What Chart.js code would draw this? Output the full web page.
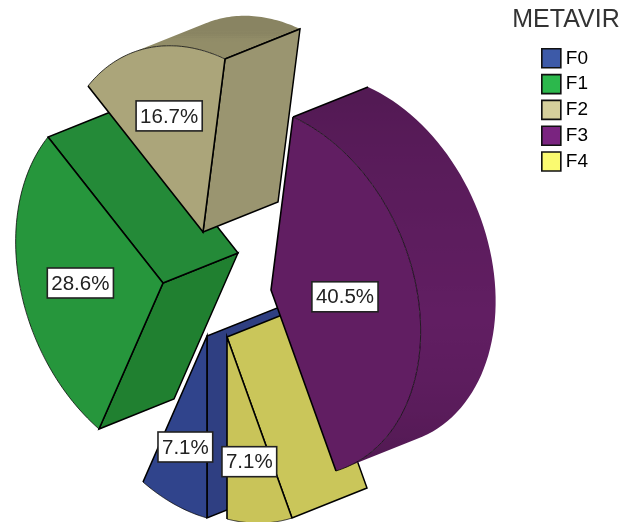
<!DOCTYPE html>
<html>
<head>
<meta charset="utf-8">
<style>
  html, body { margin: 0; padding: 0; background: #fff; }
  #wrap { width: 634px; height: 522px; }
</style>
<script src="https://cdn.jsdelivr.net/npm/chart.js@4/dist/chart.umd.min.js"></script>
</head>
<body>
<div id="wrap"><canvas id="pie" width="634" height="522"></canvas></div>
<script>
const categories = ['F0', 'F1', 'F2', 'F3', 'F4'];
const percents = [7.1, 28.6, 16.7, 40.5, 7.1];
const legendTitle = 'METAVIR';

const faceColors = ['#30448c', '#26963c', '#aba57a', '#611e62', '#c9c459'];
const legendColors = ['#3d5aa8', '#2cb84c', '#d6d09c', '#7a2480', '#fafa70'];
const startWallColors = ['#2f3f82', '#208030', '#9a9570', '#5d1e5e', '#cac65a'];
const endWallColors = ['#2f3f82', '#248a38', '#9a9570', '#5d1e5e', '#cac65a'];

// fake 3d view: where each exploded wedge tip lands and where the slice edges point
const wedgeTips = [[207, 336], [163, 283], [203, 232], [271, 290], [227, 337]];
const spokes = [[0, 182], [-64, 146], [-115, -146], [22, -173], [65, 181]];
const depth = [75, -30];
const paintOrder = [1, 2, 0, 4, 3];
const labelReach = [0.66, 0.575, 0.63, 0.5, 0.67];

function viewOf(arc, i) {
  const r = arc.outerRadius;
  const u = spokes[i];
  const v = spokes[(i + 1) % spokes.length];
  const c1 = Math.cos(arc.startAngle) * r, s1 = Math.sin(arc.startAngle) * r;
  const c2 = Math.cos(arc.endAngle) * r, s2 = Math.sin(arc.endAngle) * r;
  const det = c1 * s2 - c2 * s1;
  const a = (u[0] * s2 - v[0] * s1) / det;
  const c = (v[0] * c1 - u[0] * c2) / det;
  const b = (u[1] * s2 - v[1] * s1) / det;
  const d = (v[1] * c1 - u[1] * c2) / det;
  const tip = wedgeTips[i];
  return { a, b, c, d, e: tip[0] - (a * arc.x + c * arc.y), f: tip[1] - (b * arc.x + d * arc.y), tip };
}

function project(m, arc, angle, reach) {
  const px = arc.x + Math.cos(angle) * arc.outerRadius * reach;
  const py = arc.y + Math.sin(angle) * arc.outerRadius * reach;
  return [m.a * px + m.c * py + m.e, m.b * px + m.d * py + m.f];
}

function faces(from, to) {
  const tx = to[0] - from[0], ty = to[1] - from[1];
  return ty * depth[0] - tx * depth[1] > 0;
}

function shade(hex, k) {
  const n = parseInt(hex.slice(1), 16);
  return `rgb(${Math.round((n >> 16 & 255) * k)},${Math.round((n >> 8 & 255) * k)},${Math.round((n & 255) * k)})`;
}

function drawFlatWall(ctx, p, q, color) {
  ctx.beginPath();
  ctx.moveTo(p[0], p[1]);
  ctx.lineTo(q[0], q[1]);
  ctx.lineTo(q[0] + depth[0], q[1] + depth[1]);
  ctx.lineTo(p[0] + depth[0], p[1] + depth[1]);
  ctx.closePath();
  ctx.fillStyle = color;
  ctx.fill();
  ctx.strokeStyle = '#000';
  ctx.lineWidth = 1.5;
  ctx.stroke();
}

function drawCurvedWall(ctx, rim, color) {
  const run = [];
  const stops = [];
  for (let k = 0; k < rim.length - 1; k++) {
    const p = rim[k], q = rim[k + 1];
    if (!faces(p, q)) continue;
    if (!run.length) run.push(p);
    run.push(q);
    const nx = q[1] - p[1], ny = p[0] - q[0];
    const tilt = Math.abs(Math.atan2(ny, nx)) / (Math.PI / 2);
    stops.push([(p[1] + q[1]) / 2 + depth[1] / 2, shade(color, 1 - 0.2 * Math.min(tilt, 1))]);
  }
  if (!run.length) return;

  const ys = stops.map(s => s[0]);
  const top = Math.min(...ys), bottom = Math.max(...ys);
  const grad = ctx.createLinearGradient(0, top, 0, bottom + 1);
  stops.sort((a, b) => a[0] - b[0]).forEach(s => grad.addColorStop((s[0] - top) / (bottom + 1 - top), s[1]));

  ctx.beginPath();
  run.forEach((p, k) => k ? ctx.lineTo(p[0], p[1]) : ctx.moveTo(p[0], p[1]));
  run.slice().reverse().forEach(p => ctx.lineTo(p[0] + depth[0], p[1] + depth[1]));
  ctx.closePath();
  ctx.fillStyle = grad;
  ctx.fill();

  // only a real corner of the slice gets a black edge
  ctx.strokeStyle = '#000';
  ctx.lineWidth = 1.5;
  [rim[0], rim[rim.length - 1]].forEach(p => {
    if (!run.includes(p)) return;
    ctx.beginPath();
    ctx.moveTo(p[0], p[1]);
    ctx.lineTo(p[0] + depth[0], p[1] + depth[1]);
    ctx.stroke();
  });
}

function drawWedge(ctx, arc, i) {
  const m = viewOf(arc, i);
  const rim = [];
  const steps = 60;
  for (let k = 0; k <= steps; k++) {
    rim.push(project(m, arc, arc.startAngle + (arc.endAngle - arc.startAngle) * k / steps, 1));
  }
  const s = rim[0], e = rim[steps];

  drawCurvedWall(ctx, rim, faceColors[i]);
  if (faces(m.tip, s)) drawFlatWall(ctx, m.tip, s, startWallColors[i]);
  if (faces(e, m.tip)) drawFlatWall(ctx, e, m.tip, endWallColors[i]);

  // the face itself is the library's arc, pushed through the view matrix
  ctx.save();
  ctx.transform(m.a, m.b, m.c, m.d, m.e, m.f);
  arc.draw(ctx);
  ctx.restore();

  ctx.strokeStyle = 'rgba(0,0,0,0.75)';
  ctx.lineWidth = 1;
  ctx.beginPath();
  rim.forEach((p, k) => k ? ctx.lineTo(p[0], p[1]) : ctx.moveTo(p[0], p[1]));
  ctx.stroke();

  ctx.strokeStyle = '#000';
  ctx.lineWidth = 1.6;
  ctx.beginPath();
  ctx.moveTo(s[0], s[1]);
  ctx.lineTo(m.tip[0], m.tip[1]);
  ctx.lineTo(e[0], e[1]);
  ctx.stroke();
}

const wedges3d = {
  id: 'wedges3d',
  beforeDatasetDraw(chart, args) {
    const ctx = chart.ctx;
    const arcs = args.meta.data;
    paintOrder.forEach(i => drawWedge(ctx, arcs[i], i));
    return false;
  },
  afterDraw(chart) {
    const ctx = chart.ctx;
    const arcs = chart.getDatasetMeta(0).data;
    ctx.save();
    ctx.font = '20.5px "Liberation Sans", Arial, sans-serif';
    ctx.textAlign = 'center';
    ctx.textBaseline = 'middle';
    arcs.forEach((arc, i) => {
      const m = viewOf(arc, i);
      const p = project(m, arc, (arc.startAngle + arc.endAngle) / 2, labelReach[i]);
      const text = percents[i].toFixed(1) + '%';
      const w = ctx.measureText(text).width + 8;
      const h = 30;
      ctx.fillStyle = '#fff';
      ctx.fillRect(p[0] - w / 2, p[1] - h / 2, w, h);
      ctx.strokeStyle = '#222';
      ctx.lineWidth = 1.6;
      ctx.strokeRect(p[0] - w / 2, p[1] - h / 2, w, h);
      ctx.fillStyle = '#222';
      ctx.fillText(text, p[0], p[1] + 1);
    });

    // legend clips its own title to the column, so it goes here
    ctx.font = '25px "Liberation Sans", Arial, sans-serif';
    ctx.fillStyle = '#333';
    ctx.fillText(legendTitle, 566, 20);
    ctx.restore();
  }
};

new Chart(document.getElementById('pie'), {
  type: 'pie',
  data: {
    labels: categories,
    datasets: [{
      data: percents,
      backgroundColor: faceColors,
      borderWidth: 0
    }]
  },
  plugins: [wedges3d],
  options: {
    responsive: false,
    animation: false,
    rotation: 180,
    layout: { padding: { top: 42, right: 36 } },
    plugins: {
      tooltip: { enabled: false },
      legend: {
        position: 'right',
        align: 'start',
        labels: {
          usePointStyle: true,
          pointStyle: 'rect',
          boxWidth: 10,
          boxHeight: 19,
          padding: 6.8,
          color: '#222',
          font: { family: '"Liberation Sans"', size: 19 },
          generateLabels: () => categories.map((name, i) => ({
            text: name,
            fillStyle: legendColors[i],
            strokeStyle: '#111',
            lineWidth: 1.6,
            pointStyle: 'rect',
            index: i
          }))
        }
      }
    }
  }
});
</script>
</body>
</html>
